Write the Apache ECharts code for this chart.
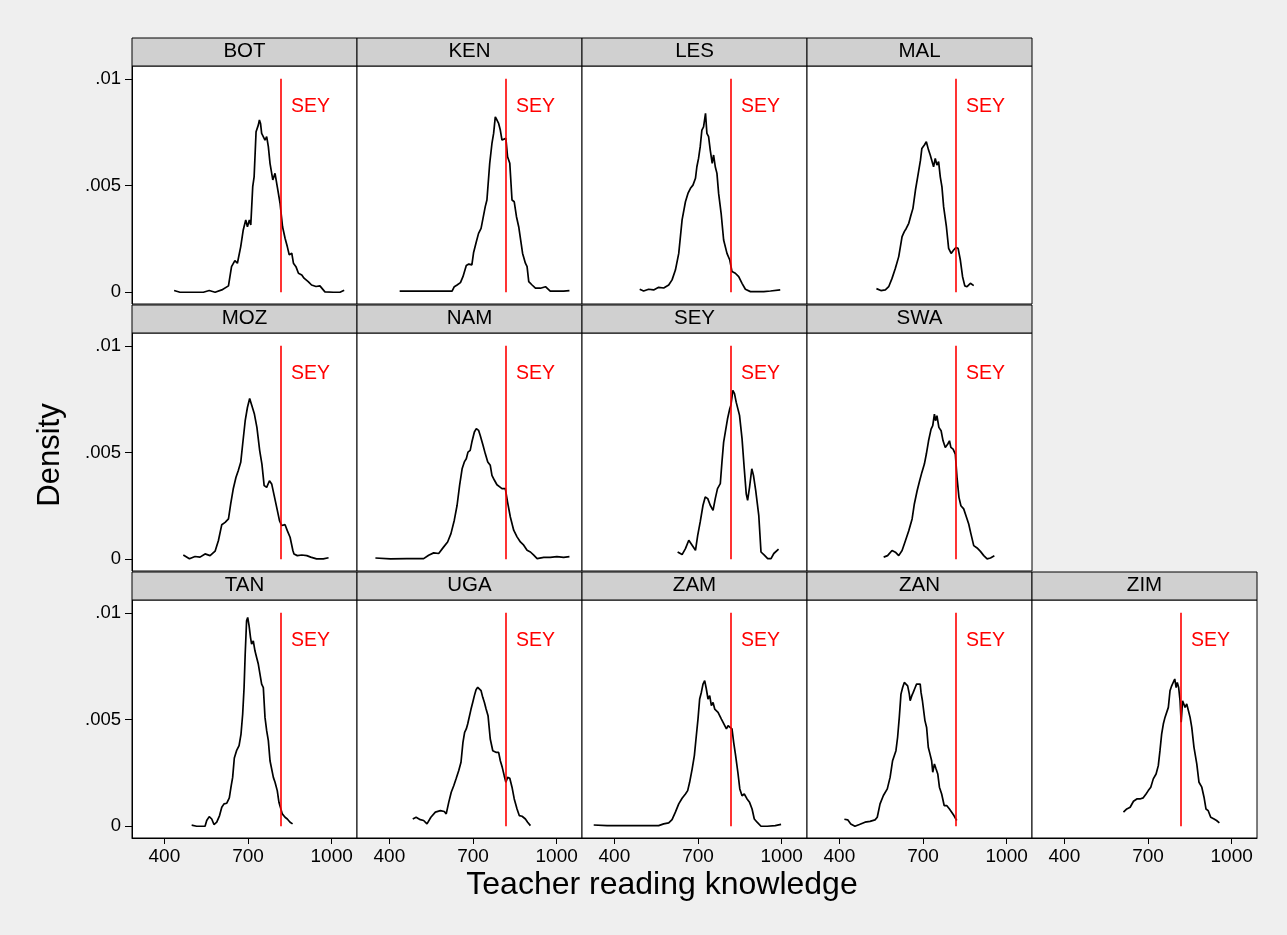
<!DOCTYPE html>
<html><head><meta charset="utf-8">
<script src="https://cdn.jsdelivr.net/npm/echarts@6/dist/echarts.min.js"></script>
<style>html,body{margin:0;padding:0;background:#efefef}#c{width:1287px;height:935px}</style>
</head><body><div id="c"></div>
<script>
// ---- data (x = teacher reading score, y = kernel density) ----
const countries = ['BOT','KEN','LES','MAL','MOZ','NAM','SEY','SWA','TAN','UGA','ZAM','ZAN','ZIM'];
const SEY_SCORE = 818;
const xTicks = [400, 700, 1000];
const xTickLabels = ['400', '700', '1000'];
const yTicks = [0, 0.005, 0.01];
const yTickLabels = ['0', '.005', '.01'];
const xTitle = 'Teacher reading knowledge';
const yTitle = 'Density';
const refLabel = 'SEY';

const BOT = [[435,.00008],[456,0],[540,0],[561,.00008],[582,0],[606,.00011],[630,.0003],[641,.0012],[653,.00148],[662,.00136],[674,.00214],[683,.00292],[692,.00339],[698,.00307],[705,.00339],[710,.00315],[717,.00495],[722,.00541],[729,.00752],[737,.00783],[741,.00807],[745,.00791],[749,.00744],[755,.00752],[761,.00713],[767,.00729],[773,.00682],[779,.00604],[789,.00526],[797,.00557],[805,.00495],[815,.00417],[824,.00307],[833,.00253],[841,.00214],[848,.00175],[857,.00183],[863,.00136],[872,.0012],[881,.00089],[893,.00081],[901,.00066],[916,.0005],[928,.00034],[944,.00027],[958,.0003],[976,.00002],[1006,0],[1030,0],[1045,.00009]];
const KEN = [[437,.00005],[523,.00005],[625,.00005],[633,.00026],[643,.00034],[655,.00045],[664,.00073],[676,.00125],[685,.00132],[696,.00128],[702,.00185],[712,.00237],[720,.00276],[729,.00299],[736,.00307],[744,.00401],[750,.00432],[760,.00604],[768,.00697],[774,.00744],[780,.00822],[786,.00807],[792,.00791],[798,.0076],[804,.00713],[810,.00721],[818,.00721],[824,.00635],[832,.00604],[840,.00432],[848,.00424],[856,.00354],[864,.00307],[870,.00315],[878,.00182],[888,.00136],[894,.0012],[900,.0005],[912,.00034],[924,.00019],[942,.00019],[960,.00026],[977,.00005],[1025,.00005],[1046,.00008]];
const LES = [[491,.00014],[505,.00006],[523,.00014],[541,.00011],[559,.00023],[577,.0002],[595,.00034],[607,.00058],[619,.00104],[631,.00182],[643,.00339],[655,.00424],[664,.00463],[673,.00487],[682,.00502],[691,.00534],[696,.00588],[702,.00627],[708,.00682],[714,.0076],[720,.00775],[727,.00838],[732,.00744],[738,.00729],[744,.00666],[751,.00604],[756,.00643],[762,.00588],[768,.00557],[774,.00463],[783,.0037],[792,.00245],[804,.00182],[814,.00151],[822,.00097],[834,.00089],[846,.00073],[858,.00042],[870,.00014],[888,.00003],[936,.00003],[960,.00006],[995,.00011]];
const MAL = [[533,.00017],[549,.00008],[565,.00011],[577,.00026],[589,.00065],[601,.00112],[613,.00167],[625,.00261],[633,.00284],[640,.00299],[649,.00323],[657,.00362],[664,.00393],[673,.00479],[681,.00541],[691,.00619],[696,.00674],[705,.0069],[712,.00705],[720,.00666],[726,.00643],[732,.00651],[738,.00588],[744,.00627],[750,.00596],[756,.00612],[762,.00541],[768,.00494],[774,.00401],[784,.00307],[792,.00206],[801,.00182],[810,.00198],[818,.00209],[826,.00206],[834,.00151],[842,.00073],[850,.0003],[858,.00026],[870,.00042],[882,.00031]];
const MOZ = [[468,.0002],[490,.00002],[510,.00013],[528,.0001],[546,.00025],[564,.00017],[582,.00038],[594,.00088],[606,.00162],[618,.00173],[630,.00189],[638,.00259],[647,.00329],[657,.00384],[665,.00415],[674,.00454],[681,.0054],[690,.00649],[698,.00711],[706,.00753],[714,.00719],[723,.0068],[732,.00618],[742,.00509],[750,.00446],[758,.00345],[767,.00337],[777,.00368],[785,.00353],[794,.00298],[803,.00243],[813,.00181],[821,.00158],[833,.00162],[841,.00134],[851,.00103],[861,.00041],[865,.00025],[877,.00017],[893,.0002],[911,.00017],[925,.0001],[946,.00002],[970,.00002],[989,.00007]];
const NAM = [[350,.00006],[404,.00002],[463,.00003],[523,.00003],[541,.00019],[559,.0003],[577,.00027],[595,.00058],[609,.00081],[621,.0012],[633,.00183],[643,.00253],[652,.00346],[661,.00424],[669,.00456],[676,.00471],[682,.00502],[690,.0051],[696,.00549],[705,.00596],[712,.00612],[720,.00604],[726,.0058],[736,.00534],[744,.00495],[753,.00456],[762,.0044],[768,.00393],[777,.0037],[786,.00349],[796,.00339],[804,.00331],[816,.00331],[824,.00268],[834,.00198],[846,.00136],[858,.00105],[870,.00081],[882,.00066],[894,.00042],[906,.00034],[918,.00019],[930,.00003],[954,.00009],[977,.00009],[1001,.00012],[1025,.00009],[1046,.00012]];
const SEY = [[627,.00034],[643,.00022],[655,.0005],[667,.00089],[679,.00066],[691,.00042],[699,.00112],[708,.00175],[718,.00253],[726,.00292],[735,.00284],[744,.00253],[754,.00229],[762,.00284],[770,.00331],[780,.00354],[786,.00456],[792,.00549],[798,.00596],[806,.00658],[814,.00705],[818,.00721],[825,.00791],[831,.00776],[837,.00736],[842,.00744],[849,.00674],[858,.00565],[866,.00424],[873,.00307],[878,.00276],[885,.00338],[893,.00424],[899,.00393],[907,.00323],[918,.00206],[926,.00034],[938,.00019],[950,.00003],[962,.00003],[972,.00027],[989,.00047]];
const SWA = [[559,.0001],[573,.00017],[589,.00041],[601,.00033],[613,.00017],[625,.00041],[637,.00087],[649,.00134],[661,.00189],[669,.00259],[679,.00321],[688,.00368],[696,.00407],[705,.00446],[712,.00493],[720,.00555],[729,.0061],[735,.00626],[741,.0068],[745,.00649],[750,.00673],[757,.00618],[765,.00602],[772,.00555],[780,.00524],[789,.0054],[795,.00555],[800,.00524],[808,.00516],[816,.00493],[822,.00384],[829,.0029],[836,.00251],[846,.00236],[856,.00197],[864,.00165],[872,.00119],[882,.00064],[894,.00053],[906,.00037],[918,.00017],[930,.00002],[942,.00006],[956,.00016]];
const TAN = [[498,.00005],[516,0],[546,0],[552,.00027],[561,.00045],[570,.00034],[578,.00008],[588,.00019],[598,.0005],[606,.00089],[614,.00105],[624,.00108],[633,.00133],[639,.00183],[645,.00229],[651,.0032],[659,.00354],[668,.00378],[675,.00432],[681,.00526],[686,.0065],[690,.00807],[695,.00963],[699,.00978],[704,.00939],[709,.00885],[713,.00853],[719,.00869],[725,.00822],[731,.00791],[737,.0076],[743,.00768],[749,.00666],[755,.0065],[761,.0051],[767,.00448],[773,.00401],[779,.00307],[785,.00307],[791,.00229],[797,.00206],[805,.00167],[811,.00112],[817,.00105],[823,.00058],[833,.00042],[841,.00034],[851,.00019],[860,.00011]];
const UGA = [[484,.00034],[496,.00042],[511,.00031],[523,.00027],[535,.00011],[549,.00042],[565,.00066],[583,.00073],[597,.00069],[604,.00058],[613,.00112],[622,.00159],[631,.0019],[640,.00225],[649,.00261],[657,.003],[664,.00393],[670,.0044],[676,.00456],[681,.00479],[687,.00487],[693,.00549],[699,.0058],[705,.00612],[711,.0064],[717,.00651],[723,.00658],[729,.00635],[735,.00604],[741,.0058],[747,.00549],[754,.00518],[762,.00409],[771,.00354],[777,.00362],[784,.00346],[792,.00346],[798,.00307],[805,.00276],[812,.00237],[818,.00206],[824,.00229],[832,.00225],[840,.00183],[848,.00128],[858,.00081],[866,.0005],[876,.00047],[888,.00034],[896,.00019],[906,.00003]];
const ZAM = [[326,.00006],[374,.00003],[433,.00003],[493,.00003],[559,.00003],[577,.00011],[595,.00016],[607,.00031],[619,.00066],[631,.00105],[643,.00131],[655,.00151],[663,.00167],[670,.00206],[679,.00268],[687,.00331],[694,.00424],[700,.00502],[706,.00596],[712,.00627],[718,.00666],[724,.00682],[730,.00643],[736,.00596],[742,.00612],[748,.00565],[754,.0058],[760,.00549],[766,.00557],[772,.00534],[778,.00541],[784,.00502],[790,.00487],[796,.00479],[802,.00456],[808,.00471],[814,.00479],[822,.00456],[828,.00393],[835,.00331],[843,.00253],[850,.00175],[858,.00143],[866,.00151],[876,.00128],[885,.00112],[894,.00081],[902,.00034],[912,.00019],[926,0],[948,0],[977,.00003],[998,.00009]];
const ZAN = [[418,.00033],[430,.0003],[441,.00011],[456,0],[472,.00008],[492,.00019],[510,.00023],[528,.0003],[536,.00042],[546,.00105],[558,.00144],[572,.00175],[582,.00229],[591,.00307],[603,.00354],[609,.00417],[615,.0051],[621,.00619],[627,.0065],[633,.00674],[639,.00674],[645,.00658],[651,.00619],[654,.00588],[660,.00612],[665,.00627],[672,.0065],[677,.00666],[684,.00674],[690,.00666],[693,.00627],[698,.00588],[704,.0058],[707,.00495],[713,.00463],[719,.0037],[725,.00339],[731,.00307],[735,.00253],[741,.00292],[747,.00268],[753,.00245],[759,.00183],[767,.00151],[776,.00097],[785,.00097],[795,.00081],[803,.00066],[811,.0005],[821,.00027]];
const ZIM = [[612,.00066],[624,.00081],[636,.00089],[648,.00117],[660,.00128],[671,.00128],[683,.00133],[693,.00151],[701,.00167],[710,.00183],[719,.00222],[729,.00245],[737,.00284],[743,.00354],[749,.00432],[755,.00479],[761,.0051],[767,.00518],[773,.00557],[779,.00635],[785,.00658],[791,.0065],[796,.0069],[801,.0065],[805,.00674],[810,.0065],[815,.00588],[819,.00487],[824,.00588],[827,.00596],[833,.00557],[839,.00573],[845,.00573],[851,.0051],[857,.00463],[865,.0037],[875,.00292],[883,.00206],[893,.00183],[901,.00136],[908,.00081],[916,.00073],[925,.00042],[937,.00034],[946,.00027],[956,.00016]];
const seriesData = {BOT, KEN, LES, MAL, MOZ, NAM, SEY, SWA, TAN, UGA, ZAM, ZAN, ZIM};

// ---- layout ----
const FONT = "'Liberation Sans', Arial, Helvetica, sans-serif";
const panelCols = [0,1,2,3, 0,1,2,3, 0,1,2,3,4];
const panelRows = [0,0,0,0, 1,1,1,1, 2,2,2,2,2];
const colLeft = [132, 357, 582, 807, 1032];
const rowTop = [66, 333, 600];
const PW = 225, PH = 238, STRIP = 28;
const X_MIN = 284, X_MAX = 1091, Y_MIN = -0.00055, Y_MAX = 0.0106;

const grids = [], xAxes = [], yAxes = [], series = [], graphics = [];
countries.forEach((name, i) => {
  const L = colLeft[panelCols[i]], T = rowTop[panelRows[i]];
  const isLeft = panelCols[i] === 0, isBottom = panelRows[i] === 2;
  grids.push({left: L, top: T, width: PW, height: PH, show: true,
    backgroundColor: '#ffffff', borderColor: '#000000', borderWidth: 1, containLabel: false});
  xAxes.push({type: 'value', gridIndex: i, min: X_MIN, max: X_MAX,
    axisLine: {show: isBottom, onZero: false, lineStyle: {color: '#000', width: 1}},
    axisTick: {show: isBottom, length: 6, inside: false, customValues: xTicks, lineStyle: {color: '#000'}},
    axisLabel: {show: isBottom, customValues: xTicks, fontSize: 19, color: '#000', fontFamily: FONT, margin: 9,
      formatter: v => { const k = xTicks.indexOf(v); return k >= 0 ? xTickLabels[k] : ''; }},
    splitLine: {show: false}});
  yAxes.push({type: 'value', gridIndex: i, min: Y_MIN, max: Y_MAX,
    axisLine: {show: isLeft, onZero: false, lineStyle: {color: '#000', width: 1}},
    axisTick: {show: isLeft, length: 7, inside: false, customValues: yTicks, lineStyle: {color: '#000'}},
    axisLabel: {show: isLeft, customValues: yTicks, fontSize: 18.5, color: '#000', fontFamily: FONT, margin: 11,
      formatter: v => { const k = yTicks.indexOf(v); return k >= 0 ? yTickLabels[k] : ''; }},
    splitLine: {show: false}});
  series.push({type: 'line', name: name, xAxisIndex: i, yAxisIndex: i, data: seriesData[name],
    showSymbol: false, symbol: 'none', smooth: false, animation: false,
    lineStyle: {color: '#000', width: 1.7},
    markLine: {silent: true, symbol: ['none', 'none'], animation: false,
      lineStyle: {color: '#ff0000', width: 1.6, type: 'solid'}, label: {show: false},
      emphasis: {disabled: true},
      data: [[{coord: [SEY_SCORE, 0]}, {coord: [SEY_SCORE, 0.01]}]]},
    markPoint: {silent: true, animation: false, symbol: 'circle', symbolSize: 0,
      label: {show: true, formatter: refLabel, position: 'right', distance: 10, color: '#ff0000', fontSize: 19.5, fontFamily: FONT},
      data: [{coord: [SEY_SCORE, 0.0087]}]}});
  graphics.push({type: 'rect', z: 10, shape: {x: L, y: T - STRIP, width: PW, height: STRIP},
    style: {fill: '#d0d0d0', stroke: '#000', lineWidth: 1}});
  graphics.push({type: 'text', z: 11, x: L + PW / 2, y: T - STRIP / 2 - 0.5,
    style: {text: name, fill: '#000', fontSize: 20.5, fontFamily: FONT, textAlign: 'center', textVerticalAlign: 'middle'}});
});
graphics.push({type: 'text', z: 11, x: 662, y: 885,
  style: {text: xTitle, fill: '#000', fontSize: 32, fontFamily: FONT, textAlign: 'center', textVerticalAlign: 'middle'}});
graphics.push({type: 'text', z: 11, x: 50, y: 455, rotation: Math.PI / 2,
  style: {text: yTitle, fill: '#000', fontSize: 31, fontFamily: FONT, textAlign: 'center', textVerticalAlign: 'middle'}});

const chart = echarts.init(document.getElementById('c'), null, {renderer: 'canvas'});
chart.setOption({backgroundColor: '#efefef', animation: false,
  grid: grids, xAxis: xAxes, yAxis: yAxes, series: series, graphic: graphics});
</script></body></html>
